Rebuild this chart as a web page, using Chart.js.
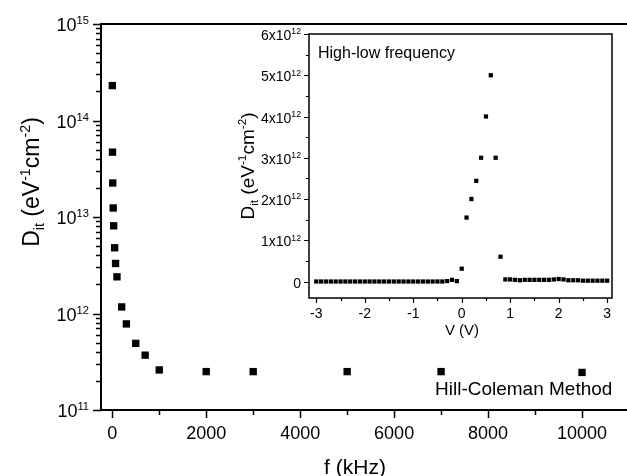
<!DOCTYPE html>
<html>
<head>
<meta charset="utf-8">
<script src="https://cdn.jsdelivr.net/npm/chart.js@4.4.1/dist/chart.umd.min.js"></script>
<style>
  html, body { margin: 0; padding: 0; background: #fff; overflow: hidden; }
  #wrap { position: relative; width: 627px; height: 476px; overflow: hidden; background: #fff; }
  #wrap canvas { position: absolute; left: 0; top: 0; }
</style>
</head>
<body>
<div id="wrap">
  <canvas id="mainChart" width="640" height="476"></canvas>
  <canvas id="insetChart" width="627" height="476"></canvas>
</div>
<script>
  // main plot: Hill-Coleman Dit vs frequency
  const freqKHz = [1, 5, 10, 20, 30, 50, 70, 100, 200, 300, 500, 700, 1000, 2000, 3000, 5000, 7000, 10000];
  const ditFreq = [2.3e14, 4.7e13, 2.25e13, 1.24e13, 8.1e12, 4.8e12, 3.3e12, 2.4e12, 1.17e12, 7.8e11, 4.9e11, 3.7e11,
    2.6e11, 2.5e11, 2.5e11, 2.5e11, 2.5e11, 2.45e11];
  const freqTicks = [0, 2000, 4000, 6000, 8000, 10000];
  const freqMinorTicks = [1000, 3000, 5000, 7000, 9000];
  const ditDecades = [11, 12, 13, 14, 15];
  const decadeSteps = [2, 3, 4, 5, 6, 7, 8, 9];

  // inset: high-low frequency Dit vs bias (Dit in units of 1e12)
  const biasV = [-3.0, -2.9, -2.8, -2.7, -2.6, -2.5, -2.4, -2.3, -2.2, -2.1, -2.0, -1.9, -1.8, -1.7, -1.6, -1.5, -1.4,
    -1.3, -1.2, -1.1, -1.0, -0.9, -0.8, -0.7, -0.6, -0.5, -0.4, -0.3, -0.2, -0.1, 0.0, 0.1, 0.2, 0.3, 0.4, 0.5, 0.6,
    0.7, 0.8, 0.9, 1.0, 1.1, 1.2, 1.3, 1.4, 1.5, 1.6, 1.7, 1.8, 1.9, 2.0, 2.1, 2.2, 2.3, 2.4, 2.5, 2.6, 2.7, 2.8, 2.9, 3.0];
  const ditBias = [0, 0, 0, 0, 0, 0, 0, 0, 0, 0, 0, 0, 0, 0, 0, 0, 0,
    0, 0, 0, 0, 0, 0, 0, 0, 0, 0, 0.01, 0.04, 0.01, 0.31, 1.55, 2.0, 2.44, 3.0, 4.0, 5.0,
    3.0, 0.6, 0.05, 0.05, 0.04, 0.03, 0.04, 0.04, 0.04, 0.04, 0.04, 0.04, 0.05, 0.06, 0.05, 0.03, 0.03, 0.03, 0.02, 0.02, 0.02, 0.02, 0.02, 0.02];
  const biasTicks = [-3, -2, -1, 0, 1, 2, 3];
  const biasMinorTicks = [-2.5, -1.5, -0.5, 0.5, 1.5, 2.5];
  const ditBiasTicks = [0, 1, 2, 3, 4, 5, 6];
  const ditBiasMinorTicks = [0.5, 1.5, 2.5, 3.5, 4.5, 5.5];

  const FONT = '"Liberation Sans", Arial, sans-serif';
  const ditTitle = [{ t: "D" }, { t: "it", s: "sub" }, { t: " (eV" }, { t: "-1", s: "sup" }, { t: "cm" }, { t: "-2", s: "sup" }, { t: ")" }];

  function partFont(p, size) {
    return `${p.s ? size * 0.62 : size}px ${FONT}`;
  }

  function richWidth(ctx, parts, size) {
    let w = 0;
    for (const p of parts) {
      ctx.font = partFont(p, size);
      w += ctx.measureText(p.t).width;
    }
    return w;
  }

  // y is the visual middle of the full-size text
  function drawRich(ctx, parts, x, y, size, align) {
    const w = richWidth(ctx, parts, size);
    let cx = align === "right" ? x - w : align === "center" ? x - w / 2 : x;
    const base = y + size * 0.36;
    ctx.textAlign = "left";
    ctx.textBaseline = "alphabetic";
    for (const p of parts) {
      ctx.font = partFont(p, size);
      let by = base;
      if (p.s === "sup") by = base - size * 0.4;
      if (p.s === "sub") by = base + size * 0.22;
      ctx.fillText(p.t, cx, by);
      cx += ctx.measureText(p.t).width;
    }
  }

  const frameAxes = {
    id: "frameAxes",
    afterDraw(chart, args, o) {
      const ctx = chart.ctx;
      const { left, right, top, bottom } = chart.chartArea;
      const xs = chart.scales.x;
      const ys = chart.scales.y;
      ctx.save();
      ctx.strokeStyle = "#000";
      ctx.fillStyle = "#000";

      ctx.lineWidth = o.tickWidth;
      ctx.beginPath();
      for (const v of o.xMajor) {
        const px = Math.round(xs.getPixelForValue(v)) + 0.5;
        ctx.moveTo(px, bottom);
        ctx.lineTo(px, bottom + o.majorLen);
      }
      for (const v of o.xMinor) {
        const px = Math.round(xs.getPixelForValue(v)) + 0.5;
        ctx.moveTo(px, bottom);
        ctx.lineTo(px, bottom + o.minorLen);
      }
      for (const v of o.yMajor) {
        const py = Math.round(ys.getPixelForValue(v)) + 0.5;
        ctx.moveTo(left, py);
        ctx.lineTo(left - o.majorLen, py);
      }
      for (const v of o.yMinor) {
        const py = Math.round(ys.getPixelForValue(v)) + 0.5;
        ctx.moveTo(left, py);
        ctx.lineTo(left - o.minorLen, py);
      }
      ctx.stroke();

      ctx.lineWidth = o.frameWidth;
      ctx.strokeRect(left, top, right - left, bottom - top);

      for (const v of o.xMajor) {
        drawRich(ctx, o.xLabel(v), xs.getPixelForValue(v), bottom + o.xLabelGap, o.tickSize, "center");
      }
      for (const v of o.yMajor) {
        drawRich(ctx, o.yLabel(v), left - o.yLabelGap, ys.getPixelForValue(v) + 1, o.tickSize, "right");
      }

      drawRich(ctx, o.xTitle, o.xTitleAt[0], o.xTitleAt[1], o.xTitleSize, "center");
      ctx.save();
      ctx.translate(o.yTitleAt[0], o.yTitleAt[1]);
      ctx.rotate(-Math.PI / 2);
      drawRich(ctx, o.yTitle, 0, 0, o.yTitleSize, "center");
      ctx.restore();

      for (const n of o.notes) {
        drawRich(ctx, [{ t: n.text }], n.at[0], n.at[1], n.size, "left");
      }
      ctx.restore();
    },
  };

  const mainMinor = [];
  for (const d of ditDecades.slice(0, -1)) {
    for (const m of decadeSteps) mainMinor.push(m * Math.pow(10, d));
  }

  new Chart(document.getElementById("mainChart"), {
    type: "scatter",
    data: {
      datasets: [
        {
          label: "Hill-Coleman",
          data: freqKHz.map((f, i) => ({ x: f, y: ditFreq[i] })),
          pointStyle: "rect",
          pointRadius: 5.2,
          pointBorderWidth: 0,
          backgroundColor: "#000",
        },
      ],
    },
    options: {
      responsive: false,
      animation: false,
      layout: { padding: { left: 101, top: 24, right: 11, bottom: 66 } },
      scales: {
        x: { type: "linear", min: -240, max: 11000, display: false },
        y: { type: "logarithmic", min: 1e11, max: 1e15, display: false },
      },
      plugins: {
        legend: { display: false },
        tooltip: { enabled: false },
        frameAxes: {
          frameWidth: 2,
          tickWidth: 1.5,
          majorLen: 8,
          minorLen: 5,
          tickSize: 18,
          xMajor: freqTicks,
          xMinor: freqMinorTicks,
          yMajor: ditDecades.map((d) => Math.pow(10, d)),
          yMinor: mainMinor,
          xLabel: (v) => [{ t: String(v) }],
          yLabel: (v) => [{ t: "10" }, { t: String(Math.round(Math.log10(v))), s: "sup" }],
          xLabelGap: 23,
          yLabelGap: 12,
          xTitle: [{ t: "f (kHz)" }],
          xTitleAt: [355, 466],
          xTitleSize: 21,
          yTitle: ditTitle,
          yTitleAt: [31, 182],
          yTitleSize: 23,
          notes: [{ text: "Hill-Coleman Method", at: [435, 388], size: 19 }],
        },
      },
    },
    plugins: [frameAxes],
  });

  new Chart(document.getElementById("insetChart"), {
    type: "scatter",
    data: {
      datasets: [
        {
          label: "High-low frequency",
          data: biasV.map((v, i) => ({ x: v, y: ditBias[i] })),
          pointStyle: "rect",
          pointRadius: 3,
          pointBorderWidth: 0,
          backgroundColor: "#000",
        },
      ],
    },
    options: {
      responsive: false,
      animation: false,
      layout: { padding: { left: 309, top: 34, right: 15, bottom: 178 } },
      scales: {
        x: { type: "linear", min: -3.15, max: 3.1, display: false },
        y: { type: "linear", min: -0.4, max: 6, display: false },
      },
      plugins: {
        legend: { display: false },
        tooltip: { enabled: false },
        frameAxes: {
          frameWidth: 1.5,
          tickWidth: 1.2,
          majorLen: 5,
          minorLen: 3,
          tickSize: 14,
          xMajor: biasTicks,
          xMinor: biasMinorTicks,
          yMajor: ditBiasTicks,
          yMinor: ditBiasMinorTicks,
          xLabel: (v) => [{ t: String(v) }],
          yLabel: (v) => (v === 0 ? [{ t: "0" }] : [{ t: v + "x10" }, { t: "12", s: "sup" }]),
          xLabelGap: 15,
          yLabelGap: 8,
          xTitle: [{ t: "V (V)" }],
          xTitleAt: [462, 330],
          xTitleSize: 15,
          yTitle: ditTitle,
          yTitleAt: [247, 166],
          yTitleSize: 19,
          notes: [{ text: "High-low frequency", at: [318, 52], size: 16 }],
        },
      },
    },
    plugins: [frameAxes],
  });
</script>
</body>
</html>
